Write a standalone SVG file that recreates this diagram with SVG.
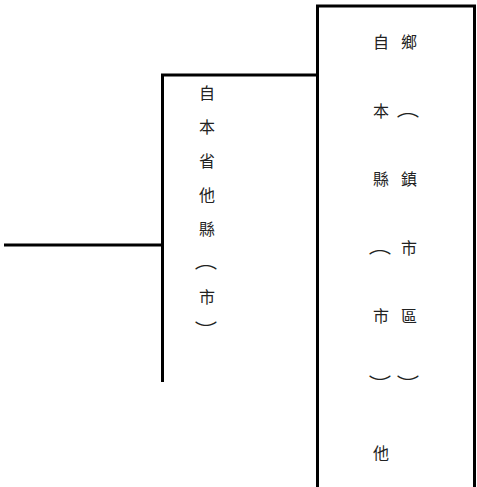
<svg xmlns="http://www.w3.org/2000/svg" width="477" height="487" viewBox="0 0 477 487">
<style>
.ln{stroke:#000;stroke-width:3;fill:none}
.t{font-family:"Noto Sans CJK TC","Noto Sans CJK SC",sans-serif;font-size:16px;fill:#222;text-anchor:middle;dominant-baseline:central}
.p{font-family:"Noto Sans CJK TC","Noto Sans CJK SC",sans-serif;font-size:16px;fill:#222;text-anchor:middle;dominant-baseline:central}
</style>
<rect width="477" height="487" fill="#fff"/>
<g id="connectors">
<polyline class="ln" points="4,245 162.5,245"/>
<polyline class="ln" points="162.5,382 162.5,75 317.5,75"/>
</g>
<g id="node-a">
<text class="t" x="207" y="92">自</text>
<text class="t" x="207" y="126">本</text>
<text class="t" x="207" y="160">省</text>
<text class="t" x="207" y="194">他</text>
<text class="t" x="207" y="228">縣</text>
<text class="p" transform="translate(206,261) scale(1.4,1)">︵</text>
<text class="t" x="207" y="296">市</text>
<text class="p" transform="translate(206,328) scale(1.4,1)">︶</text>
</g>
<g id="node-b">
<polyline class="ln" points="317.5,487 317.5,6 474.5,6 474.5,487"/>
<text class="t" x="381" y="41">自</text>
<text class="t" x="381" y="110">本</text>
<text class="t" x="381" y="178">縣</text>
<text class="p" transform="translate(380,246) scale(1.4,1)">︵</text>
<text class="t" x="381" y="315">市</text>
<text class="p" transform="translate(380,382) scale(1.4,1)">︶</text>
<text class="t" x="381" y="452">他</text>
<text class="t" x="409" y="41">鄉</text>
<text class="p" transform="translate(408,109) scale(1.4,1)">︵</text>
<text class="t" x="409" y="178">鎮</text>
<text class="t" x="409" y="247">市</text>
<text class="t" x="409" y="315">區</text>
<text class="p" transform="translate(408,382) scale(1.4,1)">︶</text>
</g>
</svg>
